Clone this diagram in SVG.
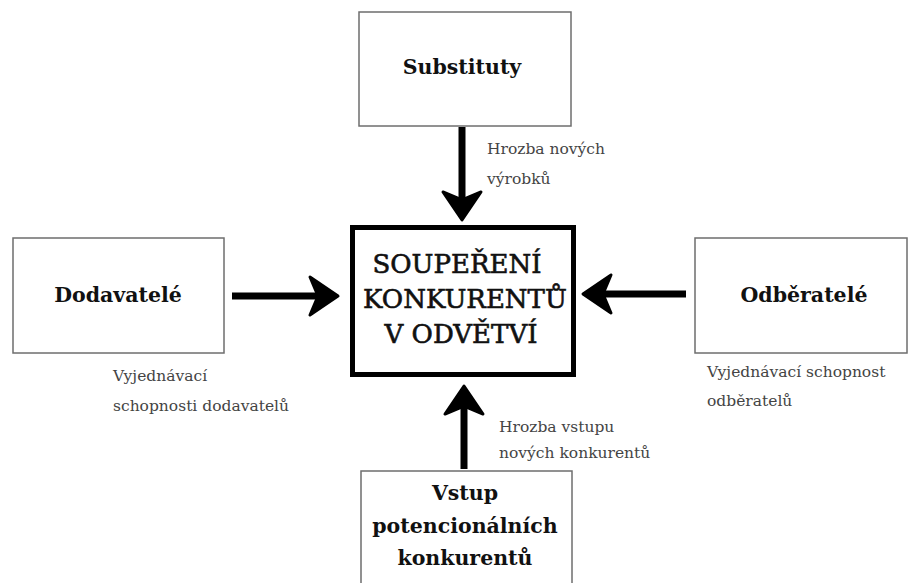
<svg xmlns="http://www.w3.org/2000/svg" width="908" height="583" viewBox="0 0 908 583">
  <style>
    .box { fill: #ffffff; stroke: #6e6e6e; stroke-width: 1.5; }
    .core { fill: #ffffff; stroke: #000000; stroke-width: 5; }
    .title { font-family: "DejaVu Serif", "Liberation Serif", serif; font-weight: bold; font-size: 20.5px; fill: #111; text-anchor: middle; }
    .big { font-family: "DejaVu Serif", "Liberation Serif", serif; font-size: 26px; fill: #111; stroke: #111; stroke-width: 0.6; text-anchor: middle; }
    .note { font-family: "DejaVu Serif", "Liberation Serif", serif; font-size: 15.5px; fill: #444; }
    .shaft { stroke: #000; stroke-width: 7; fill: none; marker-end: url(#head); }
  </style>
  <defs>
    <marker id="head" markerUnits="userSpaceOnUse" viewBox="-34 -25 38 50" markerWidth="38" markerHeight="50" refX="-20" refY="0" orient="auto">
      <path d="M0,0 L-28,-19 L-20,0 L-28,19 Z" fill="#000" stroke="#000" stroke-width="3" stroke-linejoin="round"/>
    </marker>
  </defs>
  <rect width="908" height="583" fill="#ffffff"/>

  <!-- connectors -->
  <g id="connectors">
    <line class="shaft" x1="462" y1="127" x2="462" y2="200"/>
    <line class="shaft" x1="232" y1="296" x2="318" y2="296"/>
    <line class="shaft" x1="686" y1="294" x2="603" y2="294"/>
    <line class="shaft" x1="464" y1="469" x2="464" y2="406"/>
  </g>

  <g id="substituty">
    <rect class="box" x="359" y="12" width="212" height="114"/>
    <text class="title" x="462" y="74">Substituty</text>
  </g>

  <g id="dodavatele">
    <rect class="box" x="13" y="238" width="211" height="115"/>
    <text class="title" x="118" y="302">Dodavatelé</text>
  </g>

  <g id="odberatele">
    <rect class="box" x="695" y="238" width="212" height="115"/>
    <text class="title" x="804" y="302">Odběratelé</text>
  </g>

  <g id="souperent">
    <rect class="core" x="352.5" y="227.5" width="221" height="147"/>
    <text class="big" x="457" y="273">SOUPEŘENÍ</text>
    <text class="big" x="465" y="308">KONKURENTŮ</text>
    <text class="big" x="461" y="343">V ODVĚTVÍ</text>
  </g>

  <g id="vstup">
    <rect class="box" x="361" y="471" width="211" height="120"/>
    <text class="title" x="465" y="500">Vstup</text>
    <text class="title" x="465" y="533">potencionálních</text>
    <text class="title" x="465" y="565">konkurentů</text>
  </g>

  <!-- force labels -->
  <g id="labels">
    <text class="note" x="487" y="154">Hrozba nových</text>
    <text class="note" x="487" y="184">výrobků</text>
    <text class="note" x="113" y="381">Vyjednávací</text>
    <text class="note" x="113" y="411">schopnosti dodavatelů</text>
    <text class="note" x="707" y="377">Vyjednávací schopnost</text>
    <text class="note" x="707" y="406">odběratelů</text>
    <text class="note" x="499" y="432">Hrozba vstupu</text>
    <text class="note" x="499" y="458">nových konkurentů</text>
  </g>
</svg>
